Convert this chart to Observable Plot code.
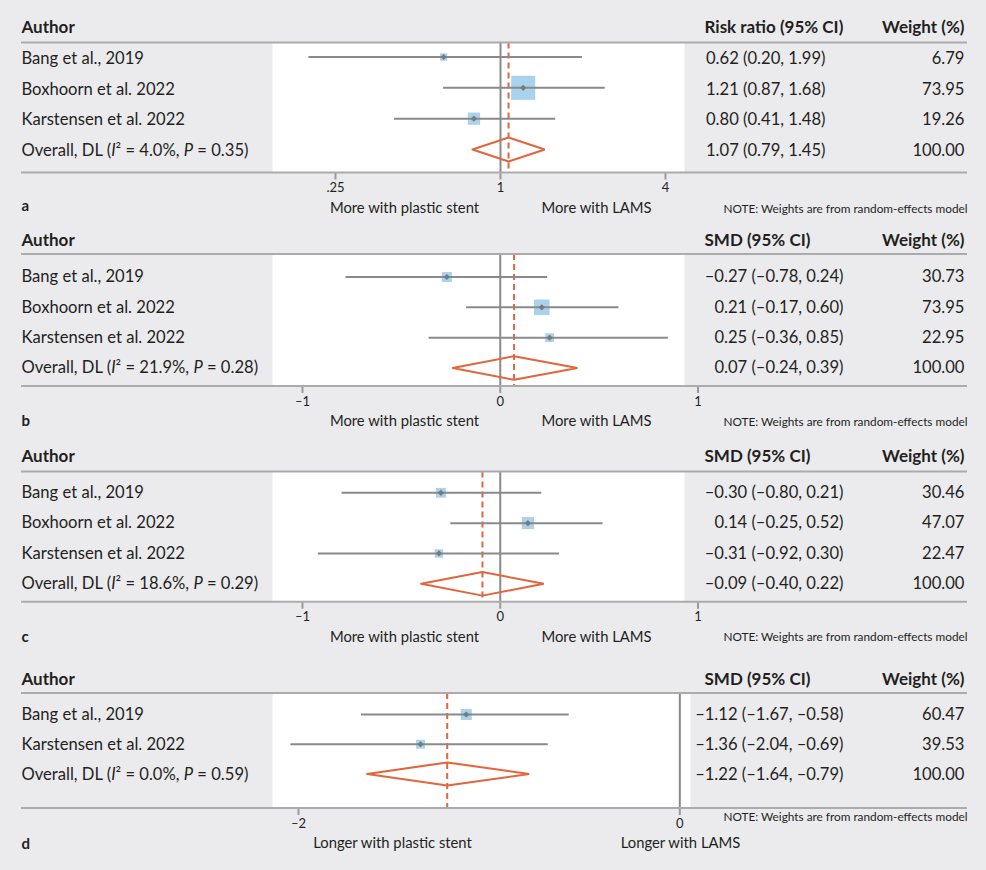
<!DOCTYPE html>
<html><head><meta charset="utf-8">
<script src="https://cdn.jsdelivr.net/npm/d3@7"></script>
<script src="https://cdn.jsdelivr.net/npm/@observablehq/plot@0.6"></script>
<style>
html,body{margin:0;padding:0;background:#ebebee;}
#chart{width:986px;height:870px;background:#ebebee;overflow:hidden;}
#chart svg{display:block;overflow:visible;}
#chart svg text{fill:#231f20;}
#chart g[aria-label^="x-axis"] path,#chart g[aria-label^="x-axis"] line{stroke:#9a9a9a;stroke-width:2px;}
</style></head><body><div id="chart"></div>
<script>
// ---------- data ----------
const authorsABC = ["Bang et al., 2019", "Boxhoorn et al. 2022", "Karstensen et al. 2022"];
const authorsD = ["Bang et al., 2019", "Karstensen et al. 2022"];

// panel a (risk ratio): printed values
const estA = [0.62, 1.21, 0.80];
const lowA = [0.20, 0.87, 0.41];
const highA = [1.99, 1.68, 1.48];
// panel a: whisker ends as drawn in the figure
const lineLowA = [0.20, 0.62, 0.41];
const lineHighA = [1.99, 2.41, 1.59];
const weightA = [6.79, 73.95, 19.26];
const overallA = [1.07, 0.79, 1.45];
const hetA = ["4.0%", "0.35"];
const ticksA = [0.25, 1, 4];
const tickLabelsA = [".25", "1", "4"];

const estB = [-0.27, 0.21, 0.25];
const lowB = [-0.78, -0.17, -0.36];
const highB = [0.24, 0.60, 0.85];
const weightB = [30.73, 73.95, 22.95];
const overallB = [0.07, -0.24, 0.39];
const hetB = ["21.9%", "0.28"];
const ticksBC = [-1, 0, 1];
const tickLabelsBC = ["–1", "0", "1"];

const estC = [-0.30, 0.14, -0.31];
const lowC = [-0.80, -0.25, -0.92];
const highC = [0.21, 0.52, 0.30];
const weightC = [30.46, 47.07, 22.47];
const overallC = [-0.09, -0.40, 0.22];
const hetC = ["18.6%", "0.29"];

const estD = [-1.12, -1.36];
const lowD = [-1.67, -2.04];
const highD = [-0.58, -0.69];
const weightD = [60.47, 39.53];
const overallD = [-1.22, -1.64, -0.79];
const hetD = ["0.0%", "0.59"];
const ticksD = [-2, 0];
const tickLabelsD = ["–2", "0"];

const headersRR = ["Author", "Risk ratio (95% CI)", "Weight (%)"];
const headersSMD = ["Author", "SMD (95% CI)", "Weight (%)"];
const sidesMore = ["More with plastic stent", "More with LAMS"];
const sidesLonger = ["Longer with plastic stent", "Longer with LAMS"];
const note = "NOTE: Weights are from random-effects model";

// ---------- styles ----------
const BLUE = "#a9d2ee", GRAY = "#8a8a8a", ORANGE = "#e2653c", RULE = "#ababab";
const FONT = "Lato, 'Open Sans', sans-serif";
const BODY = 16.6, BOLD = 17;

const fmt = v => (v < 0 ? "–" : "") + Math.abs(v).toFixed(2);

function panel(c) {
  const L = c.layout;
  const n = c.authors.length;
  const lineLo = c.lineLow || c.low, lineHi = c.lineHigh || c.high;
  const rows = c.authors.map((a, i) => ({label: a, row: i + 1, est: c.est[i], lo: c.low[i], hi: c.high[i],
    llo: lineLo[i], lhi: lineHi[i], w: c.weight[i]}));
  const ov = {label: `Overall, DL (I² = ${c.het[0]}, P = ${c.het[1]})`, row: n + 1, est: c.overall[0], lo: c.overall[1], hi: c.overall[2], w: 100};
  const all = [...rows, ov];
  const hh = 0.39;
  const diamond = [
    {x: ov.lo, y: ov.row}, {x: ov.est, y: ov.row - hh}, {x: ov.hi, y: ov.row},
    {x: ov.est, y: ov.row + hh}, {x: ov.lo, y: ov.row}
  ];
  const ml = 272, mr = 986 - L.right, mt = L.ruleTop, mb = L.height - L.ruleBottom;
  const at = (txt, x, y, o) => Plot.text([txt], {text: d => d, frameAnchor: "top-left", dx: x - ml, dy: y - mt, lineAnchor: "middle", ...o});
  const labelMap = new Map(c.ticks.map((t, i) => [t, c.tickLabels[i]]));
  const rules = () => {
    const g = d3.create("svg:g");
    for (const y of [L.ruleTop, L.ruleBottom])
      g.append("line").attr("x1", 21).attr("x2", 967).attr("y1", y).attr("y2", y)
        .attr("stroke", RULE).attr("stroke-width", 2);
    return g.node();
  };
  const svg = Plot.plot({
    width: 986, height: L.height,
    marginLeft: ml, marginRight: mr, marginTop: mt, marginBottom: mb,
    style: {background: "transparent", color: "#9a9a9a", fontFamily: FONT, fontSize: "13px"},
    x: {type: c.xType, domain: c.domain, range: c.range, ticks: c.ticks, tickFormat: d => labelMap.get(d),
        tickSize: 7, tickPadding: 3, label: null},
    y: {type: "linear", domain: [1, n + 1], range: L.rows, axis: null},
    r: {type: "sqrt", domain: [0, 100], range: [0, c.R]},
    marks: [
      Plot.frame({fill: "white", stroke: null}),
      Plot.ruleX([c.nullValue], {stroke: GRAY, strokeWidth: 2}),
      Plot.ruleX([ov.est], {stroke: ORANGE, strokeWidth: 2, strokeDasharray: "6,4"}),
      rules,
      Plot.dot(rows, {x: "est", y: "row", r: "w", symbol: "square", fill: BLUE, stroke: null}),
      Plot.ruleY(rows, {y: "row", x1: "llo", x2: "lhi", stroke: GRAY, strokeWidth: 2}),
      Plot.dot(rows, {x: "est", y: "row", r: 2.8, symbol: "diamond2", fill: "#7a7a7a", stroke: null}),
      Plot.line(diamond, {x: "x", y: "y", stroke: ORANGE, strokeWidth: 2, strokeLinejoin: "miter"}),
      Plot.text(all, {y: "row", text: "label", frameAnchor: "left", dx: 21 - ml, dy: L.textDy, textAnchor: "start", fontSize: BODY}),
      Plot.text(all, {y: "row", text: d => `${fmt(d.est)} (${fmt(d.lo)}, ${fmt(d.hi)})`, frameAnchor: "left", dx: L.ciX - ml, dy: L.textDy, textAnchor: "end", fontSize: BODY}),
      Plot.text(all, {y: "row", text: d => d.w.toFixed(2), frameAnchor: "left", dx: 964 - ml, dy: L.textDy, textAnchor: "end", fontSize: BODY}),
      at(c.headers[0], 21, L.header, {textAnchor: "start", fontWeight: "bold", fontSize: BOLD}),
      at(c.headers[1], 704, L.header, {textAnchor: "start", fontWeight: "bold", fontSize: BOLD}),
      at(c.headers[2], 964, L.header, {textAnchor: "end", fontWeight: "bold", fontSize: BOLD}),
      at(c.sides[0], L.sideX[0], L.sub, {textAnchor: "middle", fontSize: 14.8}),
      at(c.sides[1], L.sideX[1], L.sub, {textAnchor: "middle", fontSize: 14.8}),
      at(c.letter, 21, L.letter, {textAnchor: "start", fontWeight: "bold", fontSize: 15}),
      at(note, 967, L.note, {textAnchor: "end", fontSize: 11.8})
    ]
  });
  // italic I and P in the overall label
  svg.querySelectorAll("text").forEach(t => {
    const s = t.textContent;
    if (!s.startsWith("Overall")) return;
    const parts = s.split(/(I(?=²)|P(?= =))/).filter(p => p);
    t.textContent = "";
    for (const p of parts) {
      const ts = document.createElementNS("http://www.w3.org/2000/svg", "tspan");
      if (p === "I" || p === "P") ts.setAttribute("font-style", "italic");
      ts.textContent = p;
      t.appendChild(ts);
    }
  });
  return svg;
}

const chart = document.getElementById("chart");
chart.appendChild(panel({
  authors: authorsABC, est: estA, low: lowA, high: highA, lineLow: lineLowA, lineHigh: lineHighA,
  weight: weightA, overall: overallA, het: hetA,
  xType: "log", domain: [0.25, 4], range: [335, 665], ticks: ticksA, tickLabels: tickLabelsA, nullValue: 1,
  headers: headersRR, sides: sidesMore, letter: "a", R: 15.8,
  layout: {height: 217, header: 27, ruleTop: 42.5, ruleBottom: 172.5, rows: [56.5, 149], textDy: 1.5,
           right: 684, ciX: 825, sub: 207.5, letter: 206, note: 208.5, sideX: [404, 596]}
}));
chart.appendChild(panel({
  authors: authorsABC, est: estB, low: lowB, high: highB, weight: weightB, overall: overallB, het: hetB,
  xType: "linear", domain: [-1, 1], range: [302, 697.5], ticks: ticksBC, tickLabels: tickLabelsBC, nullValue: 0,
  headers: headersSMD, sides: sidesMore, letter: "b", R: 10.2,
  layout: {height: 216, header: 23, ruleTop: 37, ruleBottom: 169, rows: [59.5, 150.5], textDy: 0,
           right: 684, ciX: 843, sub: 204, letter: 204, note: 204.5, sideX: [404, 596]}
}));
chart.appendChild(panel({
  authors: authorsABC, est: estC, low: lowC, high: highC, weight: weightC, overall: overallC, het: hetC,
  xType: "linear", domain: [-1, 1], range: [302, 697.5], ticks: ticksBC, tickLabels: tickLabelsBC, nullValue: 0,
  headers: headersSMD, sides: sidesMore, letter: "c", R: 10,
  layout: {height: 222, header: 23, ruleTop: 38.5, ruleBottom: 168.7, rows: [59.3, 150.3], textDy: 0,
           right: 684, ciX: 843, sub: 204, letter: 204, note: 204, sideX: [404, 596]}
}));
chart.appendChild(panel({
  authors: authorsD, est: estD, low: lowD, high: highD, weight: weightD, overall: overallD, het: hetD,
  xType: "linear", domain: [-2, 0], range: [298, 679.3], ticks: ticksD, tickLabels: tickLabelsD, nullValue: 0,
  headers: headersSMD, sides: sidesLonger, letter: "d", R: 8,
  layout: {height: 215, header: 24, ruleTop: 38, ruleBottom: 153, rows: [59, 118.5], textDy: 0.5,
           right: 690, ciX: 843, sub: 187.5, letter: 188.5, note: 162, sideX: [392, 680]}
}));
</script></body></html>
